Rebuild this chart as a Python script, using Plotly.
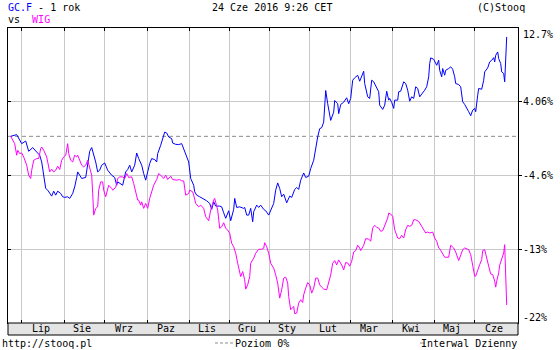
import plotly.graph_objects as go

# ---- data (trading-day index, % change) ----
gc_x = [0,3,5.5,7.5,9,11,13,14.5,15.5,16.5,17.5,18.5,19.5,20.5,21.5,22.5,23.5,25,26,27,28.5,29.5,31,32,33,33.5,34.5,35.5,37.5,38.5,39.5,40.5,41.5,42.5,43.5,44.5,45.5,47,48.5,50.5,52,53,53.5,55,56,57.5,58.5,59.5,60.5,62,63,64,65.5,66.5,67.5,68.5,69.5,70.5,72,73,73.5,75,76,77,78,79,80.5,81,82.5,84,85.5,87,89,90,91.5,92,93,94.5,96.5,98,99.5,100.5,101.5,102.5,104.5,105.5,106.5,107.5,109,110,111.5,112,113,114.5,116.5,117,118,119,120,121,121.5,123,124,125,126.5,127.5,129,130,131.5,132.5,133.5,134.5,135.5,136.5,138,139.5,140.5,142,143,144,145,146.5,147.5,149,150,151.5,152.5,153.5,154.5,155.5,156.5,157,157.5,158.5,159,160,161.5,162,163.5,164,165,166.5,168,169,170,171,172,173.5,174.5,176.5,177,178.5,179.5,180.5,181.5,183,184,184.5,186,187,188,189,189.5,190.5,191.5,192,193.5,194,195,196.5,197.5,198.5,199.5,200.5,201.5,202.5,203.5,204.5,206,207,208,209,209.5,210,211.5,212,213,214,214.5,215.5,216,217,217.5,219,220,221,222,222.5,224,225,226,227,228,229,230,231,232,232.5,233.5,234,235.5,236.5,237,238.5,239.5,240.5,241.5,242,242.5,243.5,244,245,245.5,246.5,247,248]
gc_y = [0,0.20,-0.86,-0.55,-1.76,-1.32,-1.84,-2.22,-3.01,-4.37,-6.12,-6.32,-6.71,-7.02,-6.44,-6.91,-6.44,-6.71,-7.10,-7.17,-7.10,-7.29,-6.71,-5.93,-4.83,-4.18,-4.57,-4.95,-4.83,-3.01,-1.76,-1.32,-2.03,-3.01,-4.18,-3.98,-3.39,-3.13,-3.98,-4.57,-4.83,-5.74,-5.35,-5.54,-5.74,-4.18,-3.90,-3.39,-4.18,-3.39,-1.96,-2.61,-3.39,-4.37,-5.15,-4.18,-3.20,-2.61,-2.73,-3.01,-2.03,-1.05,-0.20,0.50,0.39,-0.08,-0.27,-0.79,-0.94,-0.97,-0.86,-1.84,-3.01,-4.95,-5.74,-6.52,-6.91,-7.10,-7.37,-7.57,-7.88,-8.58,-7.69,-8.19,-8.19,-8.28,-8.98,-9.63,-8.74,-9.91,-8.58,-7.29,-8.35,-8.28,-8.46,-8.35,-9.25,-9.25,-8.46,-10.03,-8.86,-8.08,-8.35,-8.08,-8.58,-8.74,-9.25,-8.66,-7.88,-6.32,-5.47,-6.12,-7.10,-6.79,-7.81,-7.02,-7.17,-6.24,-6.00,-6.24,-5.15,-4.30,-4.83,-4.68,-3.78,-2.81,-1.25,-0.08,0.90,1.02,1.67,4.60,5.38,3.83,3.04,1.87,2.84,4.21,3.83,2.66,3.74,4.01,4.53,3.83,4.45,6.59,6.87,7.17,6.47,7.64,6.20,4.64,4.45,6.59,6.40,5.62,5.23,3.66,3.16,3.66,5.30,4.25,4.45,3.98,3.28,4.25,4.25,5.23,5.30,6.40,6.20,5.42,4.13,4.64,4.45,5.82,5.62,4.64,5.03,5.42,5.82,6.99,8.54,9.21,9.05,8.74,8.34,8.93,7.76,6.99,7.96,7.17,7.76,7.96,8.16,7.88,6.99,6.20,6.08,5.81,4.06,3.74,3.36,2.89,2.42,3.08,3.28,2.89,4.83,5.62,5.53,6.59,7.57,8.04,8.74,8.93,9.24,8.74,9.51,9.91,9.13,8.54,7.57,7.37,6.40,11.67]

wig_x = [0,1,2,3,3.5,4.5,5.5,6.5,8,9,10,10.5,11.5,13,14,15,15.5,16.5,18,18.5,19.5,20.5,21.5,22.5,23.5,24.5,25.5,26.5,27.5,28.5,29,30,31,32,33,33.5,34.5,35.5,36.5,37.5,38.5,39.5,40.5,41,41.5,42.5,43.5,44,45,46,46.5,47.5,48.5,49,50.5,51,52.5,53.5,54.5,56,57,58,59,60.5,61.5,62.5,63.5,64,65,65.5,66.5,67.5,68.5,69.5,70.5,71.5,73,74,75.5,76.5,77.5,78.5,80,81,83,84.5,85.5,86.5,87.5,89,89.5,91,91.5,92.5,94,95,96.5,97.5,99,100,101.5,102,103.5,104.5,105.5,106.5,107.5,108.5,109.5,110.5,111.5,112.5,113.5,114.5,115,116,117,117.5,118.5,119.5,120,121.5,122.5,124,125.5,126.5,127,128,129,130,131.5,132.5,133.5,134.5,135.5,136.5,137.5,138.5,139,140,141.5,142,143,144,145,146,146.5,147.5,148.5,149.5,150.5,151.5,152.5,153.5,154.5,155.5,156.5,158,159,160,161,162,163,164,165.5,166.5,167.5,168.5,169.5,170.5,171.5,172.5,173.5,174.5,175,176.5,177.5,179,180,181,182,183,184,185,186,187,188.5,189,190,191,191.5,192,193.5,194.5,195.5,196.5,197.5,198.5,199.5,200.5,201.5,202.5,204,205,206.5,207.5,208.5,209.5,211,212,213,214,214.5,216,217,218,219,220,221.5,222.5,224,224.5,226,227,228,229,230,231,232,232.5,233.5,234.5,235.5,236,237,238,239,240,241,242,242.5,243,244,244.5,245.5,246.5,247,248]
wig_y = [0,-0.39,-0.86,-2.22,-1.64,-2.03,-1.95,-2.42,-3.39,-4.57,-4.95,-3.98,-2.81,-2.61,-2.61,-1.44,-1.25,-1.64,-2.42,-3.01,-4.18,-3.86,-4.18,-3.98,-3.51,-3.90,-2.81,-2.42,-2.22,-0.86,-2.03,-2.81,-3.01,-2.22,-2.42,-2.22,-2.81,-3.39,-3.59,-3.39,-2.81,-3.59,-4.57,-6.71,-9.25,-8.47,-8.28,-6.32,-5.35,-5.35,-6.32,-7.10,-6.32,-5.74,-6.12,-6.32,-6.00,-4.95,-4.76,-4.76,-4.95,-4.37,-4.83,-4.76,-5.54,-6.71,-7.49,-7.49,-8.08,-7.69,-8.46,-7.88,-8.46,-7.29,-6.52,-5.74,-5.07,-4.37,-4.68,-4.95,-4.57,-5.07,-4.68,-5.07,-5.15,-5.07,-5.23,-5.23,-6.91,-6.71,-6.32,-6.52,-6.91,-7.88,-8.28,-8.08,-8.46,-9.44,-9.91,-8.66,-7.49,-7.29,-8.66,-10.80,-10.62,-10.15,-10.80,-11.00,-11.39,-12.56,-12.96,-13.73,-14.90,-15.88,-16.47,-15.88,-16.85,-17.94,-17.44,-16.47,-14.90,-14.31,-13.73,-13.26,-13.26,-13.14,-12.49,-12.96,-13.73,-14.90,-15.48,-16.27,-17.24,-19.00,-18.02,-16.65,-16.54,-17.24,-18.81,-20.36,-19.98,-20.83,-20.75,-19.58,-19.19,-19.51,-18.61,-17.83,-17.17,-17.44,-18.41,-17.83,-16.65,-16.65,-17.44,-17.71,-17.94,-18.02,-17.24,-16.27,-14.90,-14.59,-15.10,-14.51,-15.10,-15.68,-14.83,-14.86,-15.25,-14.67,-13.58,-13.42,-12.79,-13.11,-13.42,-12.79,-12.02,-12.06,-12.32,-10.77,-10.45,-10.69,-10.77,-11.15,-11.08,-10.57,-9.60,-9.01,-9.13,-9.40,-9.98,-10.97,-11.94,-12.02,-11.62,-11.94,-10.96,-10.45,-10.57,-10.45,-9.80,-9.80,-9.99,-10.38,-10.96,-11.35,-11.24,-11.35,-11.24,-11.94,-12.32,-13.11,-13.19,-13.89,-14.20,-14.20,-14.20,-12.79,-13.11,-13.58,-14.59,-14.28,-13.31,-13.11,-13.19,-13.31,-13.89,-15.37,-16.42,-16.42,-15.65,-15.06,-14.48,-13.42,-13.31,-14.48,-15.25,-16.15,-16.23,-17.01,-17.71,-17.01,-16.03,-15.13,-14.48,-13.69,-12.72,-19.81]

month_labels = ["Lip", "Sie", "Wrz", "Paz", "Lis", "Gru", "Sty", "Lut", "Mar", "Kwi", "Maj", "Cze"]
month_starts = [5.15, 26.65, 46.65, 68.15, 89.15, 109.15, 129.15, 149.15, 169.65, 190.65, 211.65, 231.65]
x_range = [-1.35, 253.65]

y_ticks = [12.72, 4.06, -4.6, -13.26, -21.92]
y_labels = ["12.7%", "4.06%", "-4.6%", "-13%", "-22%"]
y_range = [-21.92, 12.72]

FONT = "DejaVu Sans Mono"
GRID = "#c8c8c8"
BLUE = "#0000ff"
MAG = "#ff00ff"

fig = go.Figure()
fig.add_trace(go.Scatter(x=wig_x, y=wig_y, mode="lines", yaxis="y2",
                         line=dict(color=MAG, width=1), hoverinfo="skip"))
fig.add_trace(go.Scatter(x=gc_x, y=gc_y, mode="lines",
                         line=dict(color=BLUE, width=1), hoverinfo="skip"))

PH = 295.0  # plot height in px
fig.update_layout(
    width=560, height=350,
    margin=dict(l=8, r=42, t=28, b=27, pad=0),
    paper_bgcolor="white", plot_bgcolor="white",
    showlegend=False,
    font=dict(family=FONT, size=10, color="black"),
    xaxis=dict(range=x_range, tickvals=month_starts, showticklabels=False,
               ticks="inside", ticklen=3, tickcolor="black",
               showgrid=True, gridcolor=GRID, gridwidth=1,
               showline=True, linecolor="black", linewidth=1, mirror="ticks",
               zeroline=False, fixedrange=True),
    yaxis=dict(range=y_range, side="right", tickvals=y_ticks[1:4],
               showticklabels=False, ticks="outside", ticklen=3,
               tickcolor="black", showgrid=True, gridcolor=GRID, gridwidth=1,
               showline=True, linecolor="black", linewidth=1,
               zeroline=False, fixedrange=True),
    yaxis2=dict(range=y_range, side="left", overlaying="y", tickvals=y_ticks[1:4],
                showticklabels=False, ticks="inside", ticklen=3,
                tickcolor="black", showgrid=False,
                showline=True, linecolor="black", linewidth=1,
                zeroline=False, fixedrange=True),
)

shapes = []
# zero level dashed line
shapes.append(dict(type="line", xref="paper", yref="y", x0=0, x1=1, y0=0, y1=0,
                   line=dict(color="#8c8c8c", width=1, dash="4px,3px"), layer="below"))
# month band under plot
shapes.append(dict(type="rect", xref="paper", yref="paper", x0=0, x1=1,
                   y0=-12 / PH, y1=0, fillcolor="#e4e4e4",
                   line=dict(color="black", width=1)))
# legend sample for Poziom 0%
shapes.append(dict(type="line", xref="paper", yref="paper",
                   x0=(215 - 8) / 510, x1=(233 - 8) / 510,
                   y0=(323 - 343) / PH, y1=(323 - 343) / PH,
                   line=dict(color="#8c8c8c", width=1, dash="3px,2px")))
shapes.append(dict(type="line", xref="paper", yref="paper",
                   x0=(420 - 8) / 510, x1=(425 - 8) / 510,
                   y0=(323 - 343) / PH, y1=(323 - 343) / PH,
                   line=dict(color="#8c8c8c", width=1)))
fig.update_layout(shapes=shapes)

ann = []
# month labels centred in band
edges = month_starts + [x_range[1]]
for i, lab in enumerate(month_labels):
    ann.append(dict(x=(edges[i] + edges[i + 1]) / 2, xref="x",
                    y=-6 / PH, yref="paper", text=lab, showarrow=False,
                    xanchor="center", yanchor="middle", xshift=-2,
                    font=dict(family=FONT, size=10, color="black")))
# y labels on right
label_px = [35, None, None, None, 317]
for v, lab, lp in zip(y_ticks, y_labels, label_px):
    if lp is None:
        yy, yref = v, "y"
    else:
        yy, yref = (323 - lp) / PH, "paper"
    ann.append(dict(x=1, xref="paper", y=yy, yref=yref, text=lab,
                    showarrow=False, xanchor="left", yanchor="middle", xshift=3,
                    font=dict(family=FONT, size=10, color="black")))

def ptxt(px, py, text, anchor="left", color="black", size=10):
    ann.append(dict(x=(px - 8) / 510, xref="paper", y=(323 - py) / PH, yref="paper",
                    text=text, showarrow=False, xanchor=anchor, yanchor="middle",
                    font=dict(family=FONT, size=size, color=color)))

ptxt(6, 7, '<span style="color:#0000ff">GC.F</span> - 1 rok')
ptxt(6, 20, 'vs  <span style="color:#ff00ff">WIG</span>')
ptxt(210, 7, "24 Cze 2016 9:26 CET")
ptxt(527, 7, "(C)Stooq", anchor="right")
ptxt(0, 343, "http://stooq.pl")
ptxt(233, 343, "Poziom 0%")
ptxt(519, 343, "Interwal Dzienny", anchor="right")

fig.update_layout(annotations=ann)
fig.write_html("out.html")
